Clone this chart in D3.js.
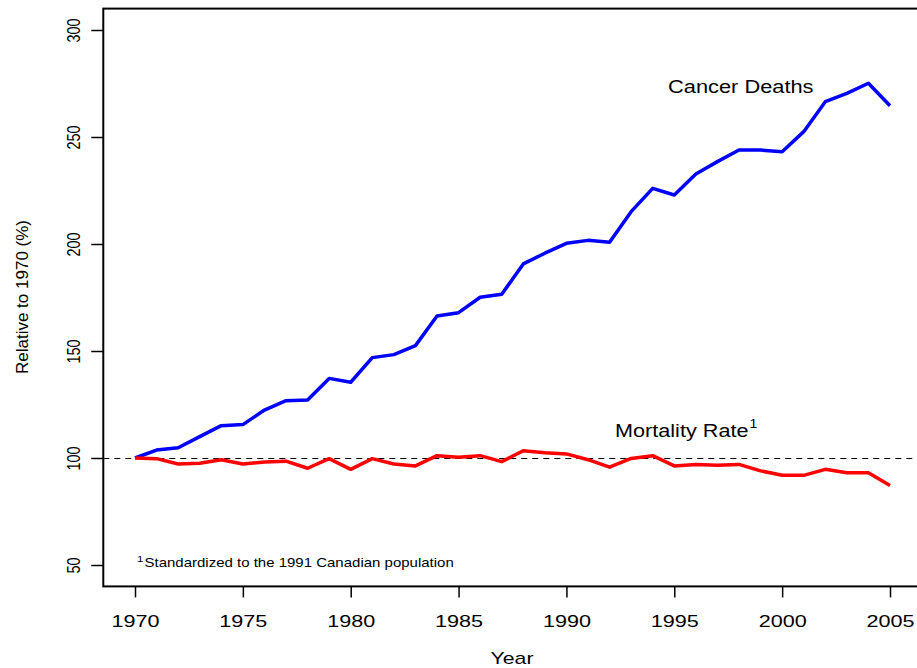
<!DOCTYPE html>
<html>
<head>
<meta charset="utf-8">
<script src="https://cdn.jsdelivr.net/npm/d3@7"></script>
<style>
  body { margin: 0; background: #fff; }
  text { font-family: "Liberation Sans", Arial, sans-serif; fill: #000; }
</style>
</head>
<body>
<div id="chart"></div>
<script>
// Cancer deaths and mortality rate relative to 1970 (%)
const years = d3.range(1970, 2006);
const cancerDeaths = [100, 103.7, 104.8, 110, 115.1, 115.6, 122.4, 126.8, 127.1, 137.2,
  135.4, 146.9, 148.3, 152.5, 166.4, 167.9, 175.1, 176.5, 190.7, 195.7,
  200.3, 201.7, 200.8, 215.1, 226.0, 222.9, 232.7, 238.5, 243.9, 243.9,
  243.1, 252.5, 266.5, 270.4, 275.1, 264.6];
const mortalityRate = [100, 99.7, 97.2, 97.5, 99.2, 97.2, 98.1, 98.5, 95.2, 99.7,
  94.7, 99.7, 97.2, 96.3, 101.1, 100.3, 101.1, 98.3, 103.4, 102.5,
  101.9, 99.2, 95.7, 99.8, 101.1, 96.3, 97.0, 96.6, 97.0, 94.0,
  91.9, 91.9, 94.7, 93.1, 93.1, 87.2];
const xTicks = [1970, 1975, 1980, 1985, 1990, 1995, 2000, 2005];
const yTicks = [50, 100, 150, 200, 250, 300];

const width = 917, height = 668;
// the original picture is stretched sideways, so text is too
const stretch = 1.25;

const x = d3.scaleLinear().domain([1970, 2005]).range([135, 890]);
const y = d3.scaleLinear().domain([50, 300]).range([565, 30]);

// box extends a bit past the data range, like R
const boxL = x(1970 - 1.47), boxR = x(2005 + 1.47);
const boxT = y(310), boxB = y(40);

const svg = d3.select("#chart")
  .append("svg")
  .attr("width", width)
  .attr("height", height);

// reference line at 100
svg.append("line")
  .attr("x1", boxL).attr("x2", boxR)
  .attr("y1", Math.round(y(100)) + 0.5).attr("y2", Math.round(y(100)) + 0.5)
  .attr("stroke", "#000")
  .attr("stroke-width", 1)
  .attr("stroke-dasharray", "6,5");

const line = d3.line()
  .x((d, i) => x(years[i]))
  .y((d) => y(d));

svg.append("path")
  .datum(cancerDeaths)
  .attr("d", line)
  .attr("fill", "none")
  .attr("stroke", "#0000ff")
  .attr("stroke-width", 3.5)
  .attr("stroke-linejoin", "round");

svg.append("path")
  .datum(mortalityRate)
  .attr("d", line)
  .attr("fill", "none")
  .attr("stroke", "#ff0000")
  .attr("stroke-width", 3.5)
  .attr("stroke-linejoin", "round");

// frame
svg.append("rect")
  .attr("x", boxL).attr("y", boxT)
  .attr("width", boxR - boxL).attr("height", boxB - boxT)
  .attr("fill", "none")
  .attr("stroke", "#000")
  .attr("stroke-width", 2);

// x axis
const xAxis = svg.append("g")
  .attr("transform", `translate(0, ${boxB})`)
  .call(d3.axisBottom(x).tickValues(xTicks).tickFormat(d3.format("d")).tickSize(11));
xAxis.select(".domain").remove();
xAxis.selectAll("line").attr("stroke-width", 1.5);
xAxis.selectAll("text")
  .attr("font-size", 17)
  .attr("font-family", "Liberation Sans, Arial, sans-serif")
  .attr("dy", null)
  .attr("y", 627 - boxB)
  .attr("transform", `scale(${stretch + 0.02}, 1)`);

// y axis, labels rotated like R's default
const yAxis = svg.append("g")
  .attr("transform", `translate(${boxL}, 0)`)
  .call(d3.axisLeft(y).tickValues(yTicks).tickSize(12));
yAxis.select(".domain").remove();
yAxis.selectAll("line").attr("stroke-width", 1.5);
yAxis.selectAll("text")
  .attr("font-size", 14.5)
  .attr("font-family", "Liberation Sans, Arial, sans-serif")
  .attr("x", null).attr("dy", null)
  .attr("text-anchor", "middle")
  .attr("transform", `translate(-23, 0) rotate(-90) scale(1, ${stretch})`);

// axis titles
svg.append("text")
  .attr("transform", `translate(512, 664) scale(${stretch}, 1)`)
  .attr("text-anchor", "middle")
  .attr("font-size", 17)
  .text("Year");

svg.append("text")
  .attr("transform", "translate(28, 297) rotate(-90)")
  .attr("text-anchor", "middle")
  .attr("font-size", 17)
  .text("Relative to 1970 (%)");

// annotations
svg.append("text")
  .attr("transform", "translate(668, 93) scale(1.18, 1)")
  .attr("font-size", 18.5)
  .text("Cancer Deaths");

const mort = svg.append("text")
  .attr("transform", "translate(615, 437) scale(1.17, 1)")
  .attr("font-size", 18.5);
mort.append("tspan").text("Mortality Rate");
mort.append("tspan").attr("font-size", 12).attr("dy", -9).attr("dx", 1).text("1");

const foot = svg.append("text")
  .attr("transform", "translate(137, 567) scale(1.2, 1)")
  .attr("font-size", 12.5);
foot.append("tspan").attr("font-size", 9.5).attr("dy", -5).text("1");
foot.append("tspan").attr("dy", 5).attr("dx", 1).text("Standardized to the 1991 Canadian population");
</script>
</body>
</html>
